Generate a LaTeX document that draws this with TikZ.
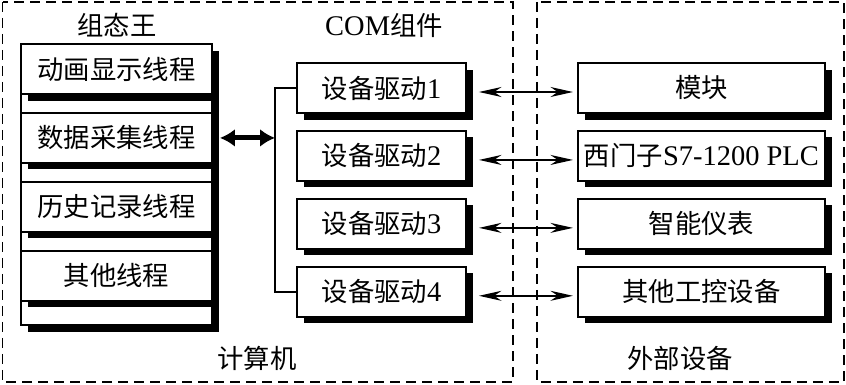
\documentclass[tikz,border=0pt]{standalone}
\usepackage{fontspec}
\setmainfont{Liberation Serif}[Scale=1.08]
\newfontfamily\cjk{Noto Sans CJK SC}
\usetikzlibrary{positioning,shadows,arrows.meta}

\begin{document}
\begin{tikzpicture}[
    font=\fontsize{15pt}{18pt}\selectfont,
    frame/.style={draw, line width=1.1pt, dash pattern=on 0.2cm off 0.12cm},
    box/.style={draw, fill=white, line width=1.1pt, minimum height=1cm, inner sep=0pt,
        drop shadow={shadow xshift=0.14cm, shadow yshift=-0.13cm, fill=black, opacity=1}},
    thread/.style={box, minimum width=3.82cm},
    driver/.style={box, minimum width=3.38cm},
    device/.style={box, minimum width=4.94cm},
    link/.style={{Stealth[length=0.45cm,width=0.2cm]}-{Stealth[length=0.45cm,width=0.2cm]}, line width=0.8pt},
    bigarrow/.style={{Latex[length=0.3cm,width=0.36cm]}-{Latex[length=0.3cm,width=0.36cm]}, line width=2.8pt}
]
    \useasboundingbox (0,0) rectangle (16.92,-7.68);
    % computer and external devices
    \draw[frame] (0.05,-0.04) rectangle (10.26,-7.64);
    \draw[frame, line width=0.8pt] (10.74,-0.04) rectangle (16.88,-7.64);

    % kingview threads
    \node[thread, minimum height=5.62cm] (stack) at (2.33,-3.69) {};
    \node[thread] (t1) at (2.33,-1.38) {\cjk 动画显示线程};
    \node[thread, below=0.34cm of t1] (t2) {\cjk 数据采集线程};
    \node[thread, below=0.34cm of t2] (t3) {\cjk 历史记录线程};
    \node[thread, below=0.34cm of t3] (t4) {\cjk 其他线程};

    % COM drivers
    \node[driver] (d1) at (7.63,-1.76) {{\cjk 设备驱动}1};
    \node[driver, below=0.32cm of d1] (d2) {{\cjk 设备驱动}2};
    \node[driver, below=0.32cm of d2] (d3) {{\cjk 设备驱动}3};
    \node[driver, below=0.32cm of d3] (d4) {{\cjk 设备驱动}4};

    % devices
    \node[device, right=2.2cm of d1] (m1) {\cjk 模块};
    \node[device, right=2.2cm of d2] (m2) {{\cjk 西门子}S7-1200 PLC};
    \node[device, right=2.2cm of d3] (m3) {\cjk 智能仪表};
    \node[device, right=2.2cm of d4] (m4) {\cjk 其他工控设备};

    % titles
    \node (zt) at (2.34,-0.5) {\cjk 组态王};
    \node (com) at (7.68,-0.5) {COM{\cjk 组件}};
    \node (pc) at (5.14,-7.16) {\cjk 计算机};
    \node (ext) at (13.6,-7.16) {\cjk 外部设备};

    % connections
    \coordinate[left=0.42cm of d1.west] (bus);
    \draw[line width=0.9pt] (d1.west) -- (bus) |- (d4.west);
    \draw[bigarrow] ([xshift=0.14cm]t2.east) -- (t2.east -| bus);
    \draw[link] ([xshift=0.24cm,yshift=-0.08cm]d1.east) -- ([xshift=-0.08cm,yshift=-0.08cm]m1.west);
    \draw[link] ([xshift=0.24cm,yshift=-0.08cm]d2.east) -- ([xshift=-0.08cm,yshift=-0.08cm]m2.west);
    \draw[link] ([xshift=0.24cm,yshift=-0.08cm]d3.east) -- ([xshift=-0.08cm,yshift=-0.08cm]m3.west);
    \draw[link] ([xshift=0.24cm,yshift=-0.08cm]d4.east) -- ([xshift=-0.08cm,yshift=-0.08cm]m4.west);
\end{tikzpicture}
\end{document}
